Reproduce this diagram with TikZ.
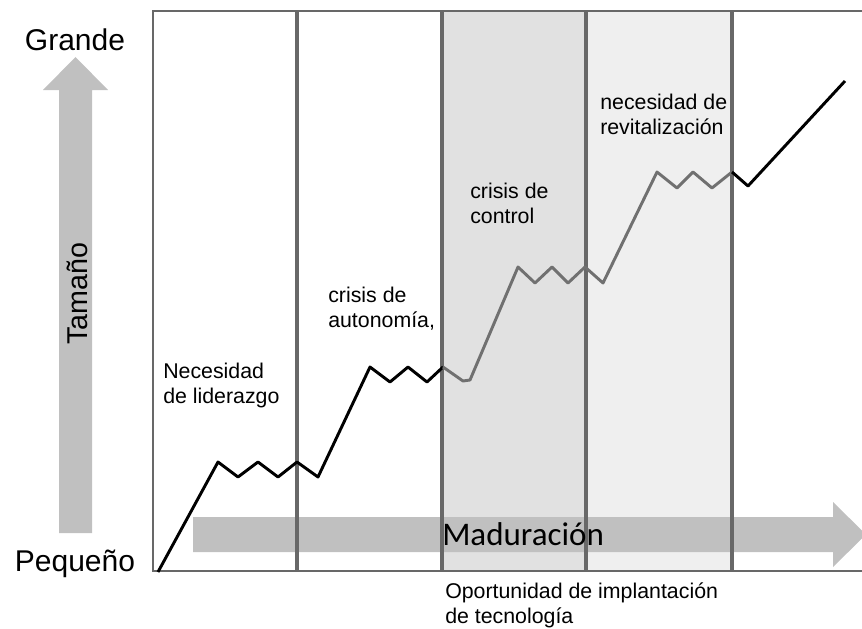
\documentclass[tikz,border=0pt]{standalone}
\usepackage{fontspec}
\setmainfont{Liberation Sans}
\newfontfamily\madfont{Carlito}
\definecolor{framegray}{HTML}{686868}
\definecolor{arrowgray}{HTML}{C0C0C0}
\definecolor{zoneA}{HTML}{E1E1E1}
\definecolor{zoneB}{HTML}{EFEFEF}
\definecolor{curvegray}{HTML}{707070}
\tikzset{
  lbl/.style={anchor=north west, inner sep=0pt, align=left, font=\fontsize{16pt}{18.6pt}\selectfont},
  endlbl/.style={anchor=base, inner sep=0pt, font=\fontsize{22.5pt}{26pt}\selectfont},
  divider/.style={framegray, line width=2.5pt},
  growth/.style={line width=2.2pt, line join=round}
}
\begin{document}
\begin{tikzpicture}[x=0.75pt, y=-0.75pt]
        \useasboundingbox (0,0) rectangle (862,628);

        % zonas sombreadas
        \fill[zoneA] (442,11) rectangle (586,571);
        \fill[zoneB] (586,11) rectangle (732,571);

        % flecha de maduracion
        \fill[arrowgray] (193,517) -- (833,517) -- (833,502) -- (866,534.5)
            -- (833,567) -- (833,552) -- (193,552) -- cycle;

        % marco y divisiones
        \draw[framegray, line width=1.6pt] (862,11) -- (153,11) -- (153,571) -- (862,571);
        \foreach \xd in {297, 442, 586, 732}
            \draw[divider] (\xd,11) -- (\xd,571);

        % flecha de tamano
        \fill[arrowgray] (59,533) -- (59,90) -- (43,90) -- (75.5,57) -- (108,90)
            -- (92,90) -- (92,533) -- cycle;

        \node[endlbl] at (75, 50)  (grande)  {Grande};
        \node[endlbl] at (75, 571) (pequeno) {Pequeño};
        \node[rotate=90, inner sep=0pt, font=\fontsize{21.5pt}{24pt}\selectfont] at (77, 294) (tamano) {Tamaño};
        \node[anchor=base west, inner sep=0pt, font=\madfont\fontsize{24.75pt}{28pt}\selectfont] at (442, 545) (madur) {Maduración};

        % curva de crecimiento
        \draw[growth] (158,572) -- (218,462) -- (238,477) -- (258,462) -- (278,477)
            -- (297,462) -- (318,477) -- (370,367) -- (390,382) -- (408,367)
            -- (427,382) -- (443,367);
        \draw[growth, curvegray] (443,367) -- (463,381) -- (470,380) -- (518,267)
            -- (535,283) -- (552,267) -- (568,283) -- (585,267) -- (603,283)
            -- (657,172) -- (677,188) -- (693,172) -- (712,188) -- (732,172);
        \draw[growth] (732,172) -- (748,186) -- (845,81);

        % etiquetas de las etapas
        \node[lbl] at (163, 363) (lider)   {Necesidad\\de liderazgo};
        \node[lbl] at (328, 287) (autonom) {crisis de\\autonomía,};
        \node[lbl] at (470, 183) (control) {crisis de\\control};
        \node[lbl] at (600, 94)  (revital) {necesidad de\\revitalización};
        \node[lbl] at (445, 583) (tecno)   {Oportunidad de implantación\\de tecnología};
    \end{tikzpicture}
\end{document}
